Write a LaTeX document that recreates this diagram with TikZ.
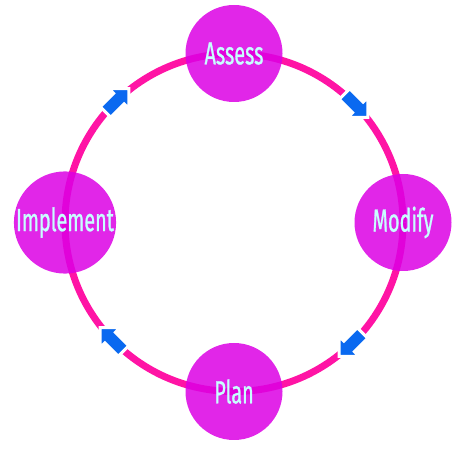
\documentclass[tikz,border=0pt]{standalone}
\usepackage{fontspec}
\newfontfamily\stagefont[FakeStretch=0.62,FakeBold=0.8]{Fira Sans}
\usetikzlibrary{shapes.arrows,backgrounds}
\definecolor{ringpink}{RGB}{255,20,165}
\definecolor{stagemagenta}{RGB}{220,0,228}
\definecolor{labelcyan}{RGB}{200,255,255}
\definecolor{arrowblue}{RGB}{10,105,240}
\begin{document}
\begin{tikzpicture}[x=1pt,y=1pt,
    stage/.style={circle, fill=stagemagenta, fill opacity=0.85, text opacity=1,
      minimum size=97pt, inner sep=0pt, text=labelcyan,
      font=\stagefont\fontsize{32}{32}\selectfont},
    ring/.style={draw=ringpink, line width=7pt},
    flowarrow/.style={single arrow, fill=arrowblue, draw=white, line width=3pt,
      minimum height=33pt, inner xsep=0pt, inner ysep=6pt,
      single arrow head extend=6.5pt}]
  \useasboundingbox (0,0) rectangle (471,449);
  \coordinate (ctr) at (234,226.5);

  % Stages
  \node[stage] (assess)    at ([shift={(90:169pt)}]ctr)  {Assess};
  \node[stage] (modify)    at ([shift={(0:169pt)}]ctr)   {Modify};
  \node[stage] (plan)      at ([shift={(-90:169pt)}]ctr) {Plan};
  \node[stage] (implement) at ([shift={(180:169pt)}]ctr) {Implement};

  % Ring
  \begin{pgfonlayer}{background}
    \draw[ring] (assess.center) arc[start angle=90, end angle=0, radius=169pt];
    \draw[ring] (modify.center) arc[start angle=0, end angle=-90, radius=169pt];
    \draw[ring] (plan.center) arc[start angle=-90, end angle=-180, radius=169pt];
    \draw[ring] (implement.center) arc[start angle=180, end angle=90, radius=169pt];
  \end{pgfonlayer}

  % Arrows
  \foreach \ang/\nm in {45/a, -45/b, -135/c, 135/d}
    \node[flowarrow, rotate=\ang-90] (arrow\nm) at ([shift={(\ang:169pt)}]ctr) {};
\end{tikzpicture}
\end{document}
